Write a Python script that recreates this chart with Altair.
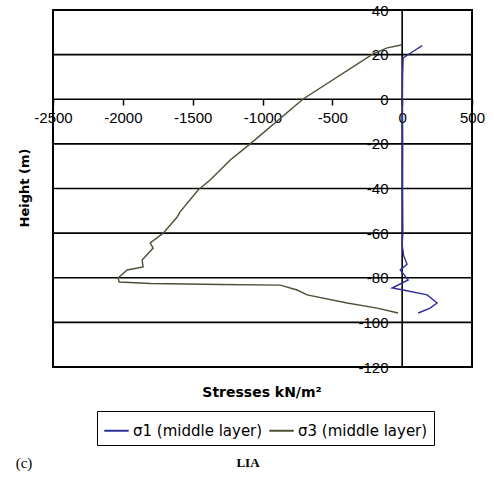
import altair as alt
import pandas as pd

# Stress profiles through the middle layer (stress in kN/m², height in m)
s1_label = "σ1 (middle layer)"
s3_label = "σ3 (middle layer)"

s1_stress = [143, 80, 7, 3, 2, 4, 3, 5, 0, 10, 35, -14, 43, -72, 7, 179, 250, 200, 115]
s1_height = [24, 21.5, 18.5, 10, 0, -20, -40, -60, -65, -70, -74, -76.5, -81, -84.6, -85.5, -87.7, -91.3, -93.6, -95.8]

s3_stress = [-7, -107, -208, -709, -1088, -1231, -1375, -1461, -1590, -1611, -1711,
             -1804, -1783, -1862, -1855, -1969, -2034, -2026, -1800, -1300, -873,
             -752, -680, -394, -179, -29]
s3_height = [24.3, 23, 20.3, 0.1, -20, -27.2, -36.2, -40.7, -50.5, -52.8, -60,
             -64.4, -66.7, -72, -75.2, -76.5, -80.1, -81.9, -82.6, -83, -83.3,
             -85.5, -87.7, -91.3, -93.6, -95.8]

x_ticks = [-2500, -2000, -1500, -1000, -500, 0, 500]
y_ticks = [40, 20, 0, -20, -40, -60, -80, -100, -120]

x_title = "Stresses kN/m²"
y_title = "Height (m)"
panel_tag = "(c)"
caption = "LIA"

W, H = 419, 357

rows = []
for i, (sx, hy) in enumerate(zip(s1_stress, s1_height)):
    rows.append({"series": s1_label, "stress": sx, "height": hy, "idx": i})
for i, (sx, hy) in enumerate(zip(s3_stress, s3_height)):
    rows.append({"series": s3_label, "stress": sx, "height": hy, "idx": i})
df = pd.DataFrame(rows)

x_scale = alt.Scale(domain=[-2500, 500], nice=False, zero=False)
y_scale = alt.Scale(domain=[-120, 40], nice=False, zero=False)

plain_number = "datum.value + ''"

lines = alt.Chart(df).mark_line(strokeWidth=1.4).encode(
    x=alt.X("stress:Q", scale=x_scale,
            axis=alt.Axis(values=x_ticks, offset=-268, domain=False, grid=False,
                          ticks=True, tickColor="black", tickSize=6, tickWidth=1.5,
                          labelPadding=5, labelFont="Liberation Sans", labelFontSize=15,
                          labelColor="black", labelFlush=False, labelOverlap=False,
                          labelExpr=plain_number, title=None)),
    y=alt.Y("height:Q", scale=y_scale,
            axis=alt.Axis(values=y_ticks, offset=-349, domain=False, grid=False,
                          ticks=False, labelPadding=14, labelFont="Liberation Sans",
                          labelFontSize=15, labelColor="black", labelFlush=False,
                          labelOverlap=False, labelExpr=plain_number, title=None)),
    color=alt.Color("series:N",
                    scale=alt.Scale(domain=[s1_label, s3_label], range=["#2f2f9c", "#4f4f38"]),
                    legend=alt.Legend(orient="none", legendX=44, legendY=401,
                                      direction="horizontal", title=None,
                                      symbolType="stroke", symbolSize=600,
                                      symbolStrokeWidth=2, labelOffset=3,
                                      columnPadding=2, padding=6,
                                      strokeColor="black",
                                      labelFont="DejaVu Sans", labelFontSize=15,
                                      labelColor="black", labelLimit=300)),
    order="idx:Q",
)

# horizontal gridlines and the zero-stress line
grid = alt.Chart(pd.DataFrame({"h": y_ticks})).mark_rule(color="black", strokeWidth=1.6).encode(
    y=alt.Y("h:Q", scale=y_scale), x=alt.value(0), x2=alt.value(W)
)
zero_line = alt.Chart(pd.DataFrame({"s": [0]})).mark_rule(color="black", strokeWidth=1.6).encode(
    x=alt.X("s:Q", scale=x_scale), y=alt.value(0), y2=alt.value(H)
)

titles = alt.Chart(pd.DataFrame({"t": [x_title]})).mark_text(
    font="DejaVu Sans", fontWeight="bold", fontSize=14, color="black", baseline="middle"
).encode(text="t:N", x=alt.value(209), y=alt.value(383))

ytitle = alt.Chart(pd.DataFrame({"t": [y_title]})).mark_text(
    font="DejaVu Sans", fontWeight="bold", fontSize=13, color="black", angle=270,
    baseline="middle"
).encode(text="t:N", x=alt.value(-28), y=alt.value(178))

tag = alt.Chart(pd.DataFrame({"t": [panel_tag]})).mark_text(
    font="Liberation Serif", fontSize=15, color="black", baseline="middle"
).encode(text="t:N", x=alt.value(-29), y=alt.value(453))

cap = alt.Chart(pd.DataFrame({"t": [caption]})).mark_text(
    font="Liberation Serif", fontWeight="bold", fontSize=13, color="black", baseline="middle"
).encode(text="t:N", x=alt.value(195), y=alt.value(453))

chart = alt.layer(grid, zero_line, lines, titles, ytitle, tag, cap).properties(
    width=W, height=H,
    autosize=alt.AutoSizeParams(type="none"),
    padding={"left": 53, "top": 10, "right": 22, "bottom": 110},
    background="white",
).configure_view(stroke="black", strokeWidth=2)

chart.save("out.html", embed_options={"renderer": "svg", "actions": False})
